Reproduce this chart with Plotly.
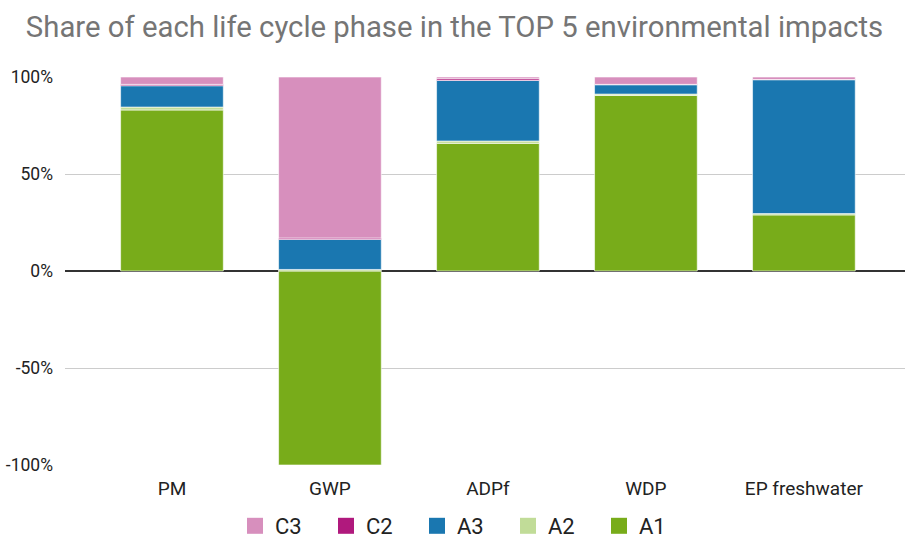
import plotly.graph_objects as go

categories = ["PM", "GWP", "ADPf", "WDP", "EP freshwater"]
A1 = [83.0, -100.0, 65.8, 90.5, 28.9]
A2 = [1.5, 0.8, 1.2, 0.7, 0.7]
A3 = [11.0, 15.5, 31.2, 4.8, 69.0]
C2 = [0.7, 0.7, 0.9, 0.2, 0.1]
C3 = [3.8, 83.0, 0.9, 3.8, 1.3]

y_tick_vals = [-1, -0.5, 0, 0.5, 1]
y_tick_text = ["-100%", "-50%", "0%", "50%", "100%"]

series = [
    ("A1", A1, "#78ac1a"),
    ("A2", A2, "#c1dc98"),
    ("A3", A3, "#1a77b0"),
    ("C2", C2, "#b0197d"),
    ("C3", C3, "#d78fbd"),
]

fig = go.Figure()
for name, vals, color in series:
    fig.add_trace(go.Bar(
        x=categories, y=[v / 100 for v in vals], name=name, showlegend=False,
        marker=dict(color=color, line=dict(color="rgba(255,255,255,0.6)", width=1)),
    ))
# legend entries with larger square swatches
for name, vals, color in series:
    fig.add_trace(go.Scatter(
        x=[None], y=[None], mode="markers", name=name,
        marker=dict(symbol="square", size=19, color=color),
    ))

W, H = 909, 542
fig.update_layout(
    barmode="relative",
    bargap=0.35,
    width=W, height=H,
    margin=dict(l=65, r=4, t=77, b=77, autoexpand=False),
    paper_bgcolor="white", plot_bgcolor="white",
    font=dict(family="Roboto", color="#222222"),
    title=dict(text="Share of each life cycle phase in the TOP 5 environmental impacts",
               x=0.5, xanchor="center", y=1 - 27 / H, yanchor="middle",
               font=dict(size=29.3, color="#757575", family="Roboto")),
    legend=dict(orientation="h", traceorder="reversed", x=(235 - 65) / 840, xanchor="left",
                y=-61 / 388, yanchor="middle", itemsizing="trace",
                entrywidth=46, entrywidthmode="pixels",
                font=dict(size=22, color="#222222")),
    xaxis=dict(tickfont=dict(size=19, color="#222222"), showgrid=False, ticks="",
               range=[-0.677, 4.64], ticklabelstandoff=10),
    yaxis=dict(range=[-1, 1], tickvals=y_tick_vals, ticktext=y_tick_text,
               tickfont=dict(size=17.5, color="#222222"), gridcolor="#cccccc",
               zeroline=True, zerolinecolor="#333333", zerolinewidth=1.5,
               ticks="", ticklabelstandoff=11),
)

fig.write_html("out.html", config={"displayModeBar": False},
               post_script="document.body.style.margin='0';")
